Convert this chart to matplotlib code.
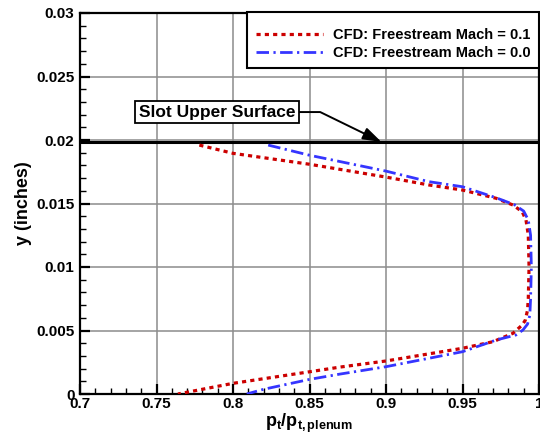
import matplotlib
matplotlib.use("Agg")
import matplotlib.pyplot as plt
from matplotlib.ticker import MultipleLocator, FuncFormatter

plt.rcParams['font.family'] = ['Liberation Sans', 'DejaVu Sans']
plt.rcParams['font.weight'] = 'bold'
plt.rcParams['mathtext.fontset'] = 'custom'
plt.rcParams['mathtext.bf'] = 'Liberation Sans:bold'
plt.rcParams['mathtext.rm'] = 'Liberation Sans:bold'
plt.rcParams['mathtext.it'] = 'Liberation Sans:bold'

# CFD total-pressure ratio profiles across the slot
m01_x = [0.778, 0.800, 0.850, 0.900, 0.928, 0.950, 0.972, 0.983, 0.989, 0.9915,
         0.993, 0.9935, 0.993, 0.9925, 0.991, 0.989, 0.983, 0.970, 0.950, 0.900,
         0.870, 0.850, 0.800, 0.764]
m01_y = [0.0196, 0.01895, 0.01809, 0.01708, 0.01646, 0.01606, 0.01541, 0.01488, 0.01435, 0.0137,
         0.0125, 0.0100, 0.0075, 0.0066, 0.0058, 0.00543, 0.00478, 0.00412, 0.00360, 0.00260,
         0.00212, 0.00175, 0.00084, 0.0]

m00_x = [0.823, 0.850, 0.900, 0.928, 0.950, 0.972, 0.984, 0.990, 0.993, 0.9945,
         0.995, 0.9945, 0.994, 0.9925, 0.9895, 0.985, 0.972, 0.950, 0.900, 0.870,
         0.850, 0.820, 0.809]
m00_y = [0.0196, 0.01880, 0.01755, 0.01672, 0.01632, 0.01545, 0.0149, 0.0144, 0.0137, 0.0125,
         0.0100, 0.0075, 0.0062, 0.0055, 0.00504, 0.00465, 0.00425, 0.00333, 0.00215, 0.00157,
         0.00115, 0.00037, 0.0]

slot_y = 0.01985
arrow_x = 0.897

fig = plt.figure(figsize=(5.4, 4.38), dpi=100)
ax = fig.add_axes([80 / 540, 44 / 438, 459 / 540, 381 / 438])

ax.grid(True, which='major', color='#8c8c8c', linewidth=1.1, zorder=0)
ax.axhline(slot_y, color='black', linewidth=2.2, zorder=3)

ax.plot(m01_x, m01_y, color='#cc0000', linewidth=2.3, linestyle=(0, (1.3, 1.3)),
        label='CFD: Freestream Mach = 0.1', zorder=4)
ax.plot(m00_x, m00_y, color='#3535ff', linewidth=2.0,
        linestyle=(0, (4.5, 1.6, 0.8, 1.6)),
        label='CFD: Freestream Mach = 0.0', zorder=4)

ax.annotate('Slot Upper Surface', xy=(arrow_x, slot_y), xytext=(0.7895, 0.0222),
            fontsize=12.5, fontweight='bold', ha='center', va='center', zorder=5,
            bbox=dict(boxstyle='square,pad=0.2', fc='white', ec='black', lw=1.3),
            arrowprops=dict(arrowstyle='-|>,head_length=0.9,head_width=0.3',
                            connectionstyle='angle,angleA=0,angleB=-26,rad=0',
                            color='black', lw=1.4, shrinkA=0, shrinkB=0))

ax.set_xlim(0.7, 1.0)
ax.set_ylim(0, 0.03)
ax.xaxis.set_major_locator(MultipleLocator(0.05))
ax.xaxis.set_minor_locator(MultipleLocator(0.01))
ax.yaxis.set_major_locator(MultipleLocator(0.005))
ax.yaxis.set_minor_locator(MultipleLocator(0.001))
fmt = FuncFormatter(lambda v, p: f"{v:.3f}".rstrip('0').rstrip('.') if v else "0")
ax.xaxis.set_major_formatter(fmt)
ax.yaxis.set_major_formatter(fmt)

ax.tick_params(which='both', direction='in', top=False, right=False, labelsize=11)
ax.tick_params(which='major', length=7, width=1.6)
ax.tick_params(which='minor', length=4, width=1.0)
ax.tick_params(axis='x', pad=2)
ax.tick_params(axis='y', pad=4)
for lab in ax.get_xticklabels() + ax.get_yticklabels():
    lab.set_fontweight('bold')
for sp in ax.spines.values():
    sp.set_linewidth(1.6)

ax.set_xlabel(r'$\mathbf{p_t/p_{t,plenum}}$', fontsize=13, labelpad=1)
ax.set_ylabel('y (inches)', fontsize=13, fontweight='bold', labelpad=3)

leg = ax.legend(loc='upper right', bbox_to_anchor=(1.0, 1.003), borderaxespad=0,
                fancybox=False, framealpha=1, edgecolor='black',
                prop={'weight': 'bold', 'size': 10.5},
                title=' ', title_fontproperties={'size': 3},
                handlelength=4.6, handletextpad=0.7, labelspacing=0.25, borderpad=0.58)
leg.get_frame().set_linewidth(1.5)
leg.set_zorder(6)

fig.savefig('out.png', dpi=100)
